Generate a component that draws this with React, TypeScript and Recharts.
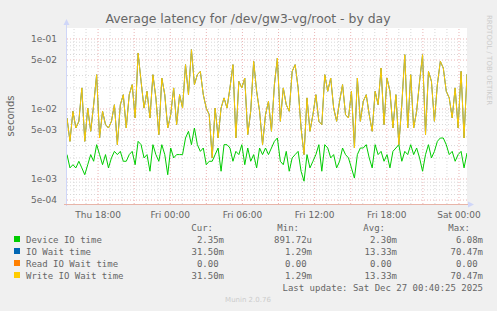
import React from "react";
import { LineChart, Line, XAxis, YAxis, ReferenceLine } from "recharts";

// Device IO time (seconds), ~15-minute samples, Thu 15:40 .. Sat 00:40
const deviceIO = [
  0.00223, 0.00144, 0.0016, 0.00144, 0.00179, 0.00144, 0.00115, 0.0016, 0.00223, 0.00179, 0.00309, 0.00223, 0.0016, 0.00223, 0.00144, 0.002, 0.00248,
  0.00223, 0.00248, 0.00179, 0.00179, 0.00223, 0.00248, 0.0016, 0.00345, 0.00309, 0.002, 0.00223, 0.00129, 0.00309, 0.00223, 0.00179, 0.00309, 0.00223,
  0.00115, 0.00277, 0.002, 0.00223, 0.00223, 0.00223, 0.00385, 0.0048, 0.00309, 0.00535, 0.00309, 0.00248, 0.00277, 0.0016, 0.00179, 0.00179, 0.00223,
  0.00277, 0.00129, 0.00309, 0.00309, 0.00277, 0.00179, 0.00248, 0.00223, 0.00309, 0.0016, 0.00277, 0.00179, 0.00223, 0.00144, 0.00277, 0.00223, 0.00277,
  0.00223, 0.00277, 0.00345, 0.00385, 0.00179, 0.0016, 0.00248, 0.00129, 0.002, 0.00223, 0.00248, 0.00129, 0.00093, 0.00223, 0.00144, 0.00179, 0.00223,
  0.00309, 0.00129, 0.00309, 0.00277, 0.002, 0.00223, 0.00144, 0.00179, 0.00277, 0.00223, 0.002, 0.00144, 0.00103, 0.00223, 0.00277, 0.00277, 0.00309,
  0.002, 0.00144, 0.00309, 0.00223, 0.00248, 0.00179, 0.00223, 0.00144, 0.00248, 0.00277, 0.00309, 0.00179, 0.00248, 0.00223, 0.00309, 0.00223, 0.00277,
  0.002, 0.00129, 0.00223, 0.00309, 0.002, 0.00248, 0.00345, 0.00385, 0.00385, 0.00309, 0.00223, 0.00248, 0.00179, 0.00223, 0.00248, 0.00144, 0.00235,
];

// Write IO Wait time (seconds); IO Wait time is identical
const writeWait = [
  0.00744, 0.00345, 0.00927, 0.00535, 0.00667, 0.02, 0.00345, 0.0103, 0.0048, 0.0115, 0.0309, 0.00385, 0.00927, 0.00597, 0.00535, 0.00667, 0.0115,
  0.00309, 0.0115, 0.016, 0.00535, 0.016, 0.0223, 0.00744, 0.0631, 0.0248, 0.0103, 0.0179, 0.00744, 0.0309, 0.0144, 0.0043, 0.0277, 0.016,
  0.00535, 0.0083, 0.02, 0.00597, 0.016, 0.0103, 0.043, 0.016, 0.0704, 0.0223, 0.0309, 0.0345, 0.016, 0.0103, 0.0083, 0.002, 0.0103,
  0.00385, 0.0103, 0.0144, 0.0103, 0.02, 0.043, 0.00385, 0.0248, 0.02, 0.0277, 0.0043, 0.00927, 0.048, 0.0179, 0.00927, 0.00309, 0.0083,
  0.0129, 0.0048, 0.0223, 0.0535, 0.00667, 0.02, 0.0115, 0.00927, 0.0345, 0.043, 0.02, 0.00535, 0.00223, 0.0144, 0.0048, 0.0083, 0.016,
  0.00667, 0.00597, 0.0309, 0.0179, 0.0277, 0.0103, 0.00667, 0.0129, 0.0223, 0.0083, 0.00744, 0.0179, 0.00277, 0.0277, 0.00667, 0.0129, 0.016,
  0.0083, 0.0048, 0.0179, 0.0115, 0.0385, 0.00597, 0.0277, 0.0179, 0.00535, 0.016, 0.00309, 0.0115, 0.0597, 0.00535, 0.0309, 0.00535, 0.00927,
  0.0248, 0.0597, 0.0043, 0.0345, 0.0248, 0.00667, 0.0223, 0.048, 0.0385, 0.0179, 0.0144, 0.00744, 0.02, 0.00535, 0.0345, 0.00385, 0.0315,
];
const ioWait = writeWait;

const START_HOUR = -8.583; // hours relative to Fri 00:00
const END_HOUR = 24.667;
const xTicks = [-6, 0, 6, 12, 18, 24];
const xTickLabels = ["Thu 18:00", "Fri 00:00", "Fri 06:00", "Fri 12:00", "Fri 18:00", "Sat 00:00"];
const yTicks = [5e-4, 1e-3, 5e-3, 1e-2, 5e-2, 1e-1];
const yTickLabels = ["5e-04", "1e-03", "5e-03", "1e-02", "5e-02", "1e-01"];

const legendRows = [
  { name: "Device IO time", color: "#00CC00", cur: "2.35m", min: "891.72u", avg: "2.30m", max: "6.08m" },
  { name: "IO Wait time", color: "#0066B3", cur: "31.50m", min: "1.29m", avg: "13.33m", max: "70.47m" },
  { name: "Read IO Wait time", color: "#FF8000", cur: "0.00 ", min: "0.00 ", avg: "0.00 ", max: "0.00 " },
  { name: "Write IO Wait time", color: "#FFCC00", cur: "31.50m", min: "1.29m", avg: "13.33m", max: "70.47m" },
];

const step = (END_HOUR - START_HOUR) / (deviceIO.length - 1);
const data = deviceIO.map((d, i) => ({
  t: START_HOUR + i * step,
  device: d,
  io: ioWait[i],
  write: writeWait[i],
}));

const minorY: number[] = [];
const majorY: number[] = [];
[-4, -3, -2, -1].forEach((e) => {
  for (let m = 1; m <= 9; m++) {
    const v = m * Math.pow(10, e);
    if (v < 4.4e-4 || v > 0.143) continue;
    if (m === 1 || m === 5) majorY.push(v);
    else minorY.push(v);
  }
});
const hourLines: number[] = [];
for (let h = -8; h <= 24; h++) hourLines.push(h);

const PL = 67, PT = 28, PW = 400, PH = 176;
const XAXIS_H = 30;
const MONO = "'DejaVu Sans Mono', monospace";
const SANS = "'DejaVu Sans', sans-serif";

export default function App() {
  return (
    <div style={{ position: "absolute", left: 0, top: 0, width: 497, height: 311, background: "#F0F0F0", overflow: "hidden" }}>
      <div style={{ position: "absolute", left: PL, top: PT, width: PW, height: PH, background: "#FFFFFF" }} />
      <div style={{ position: "absolute", left: 0, top: 0 }}>
        <LineChart width={497} height={311} data={data} margin={{ top: PT, right: 497 - PL - PW, bottom: 311 - PT - PH - XAXIS_H, left: 0 }}>
          <XAxis
            dataKey="t"
            type="number"
            height={XAXIS_H}
            domain={[START_HOUR, END_HOUR]}
            allowDataOverflow
            ticks={xTicks}
            tickFormatter={(v: number) => xTickLabels[xTicks.indexOf(v)] ?? ""}
            axisLine={false}
            tickLine={false}
            tick={{ fontSize: 9, fill: "#666666", fontFamily: SANS }}
            tickMargin={2}
          />
          <YAxis
            type="number"
            scale="log"
            domain={[4.39e-4, 0.1436]}
            allowDataOverflow
            ticks={yTicks}
            tickFormatter={(v: number) => yTickLabels[yTicks.indexOf(v)] ?? ""}
            axisLine={false}
            tickLine={false}
            width={PL}
            tick={{ fontSize: 9, fill: "#666666", fontFamily: SANS }}
            tickMargin={4}
          />
          {minorY.map((v) => (
            <ReferenceLine key={"my" + v} y={v} stroke="#D8D8D8" strokeDasharray="1 2" />
          ))}
          {hourLines.map((h) => (
            <ReferenceLine key={"vx" + h} x={h} stroke={h % 3 === 0 ? "#EBB4B4" : "#D8D8D8"} strokeDasharray="1 2" />
          ))}
          {majorY.map((v) => (
            <ReferenceLine key={"My" + v} y={v} stroke="#EBB4B4" strokeDasharray="1 2" />
          ))}
          <Line dataKey="device" stroke="#00CC00" strokeWidth={1} dot={false} isAnimationActive={false} />
          <Line dataKey="io" stroke="#0066B3" strokeWidth={1} dot={false} isAnimationActive={false} />
          <Line dataKey="write" stroke="#FFCC00" strokeWidth={1} dot={false} isAnimationActive={false} />
        </LineChart>
      </div>
      <svg width={497} height={311} style={{ position: "absolute", left: 0, top: 0, pointerEvents: "none" }}>
        {/* axes */}
        <line x1={PL - 0.5} y1={PT - 4} x2={PL - 0.5} y2={PT + PH + 2} stroke="#CFD6F8" />
        <path d={`M ${PL - 3.5} ${PT - 3} L ${PL - 0.5} ${PT - 9} L ${PL + 2.5} ${PT - 3} Z`} fill="#CFD6F8" />
        <line x1={PL - 3} y1={PT + PH + 0.5} x2={PL + PW + 2} y2={PT + PH + 0.5} stroke="#E8B4A8" />
        <path d={`M ${PL + PW + 1} ${PT + PH - 2.5} L ${PL + PW + 7} ${PT + PH + 0.5} L ${PL + PW + 1} ${PT + PH + 3.5} Z`} fill="#CFD6F8" />
        {/* title */}
        <text x={248} y={23} textAnchor="middle" fontSize={12.4} fill="#666666" fontFamily={SANS}>
          Average latency for /dev/gw3-vg/root - by day
        </text>
        <text x={14} y={116} textAnchor="middle" fontSize={10} fill="#666666" fontFamily={SANS} transform="rotate(-90 14 116)">
          seconds
        </text>
        <text x={487} y={15} fontSize={7} fill="#CCCCCC" fontFamily={SANS} transform="rotate(90 487 15)">
          RRDTOOL / TOBI OETIKER
        </text>
        {/* legend */}
        <g fontFamily={MONO} fontSize={9} fill="#666666" style={{ whiteSpace: "pre" }}>
          <text x={213} y={231} textAnchor="end">Cur:</text>
          <text x={299} y={231} textAnchor="end">Min:</text>
          <text x={385} y={231} textAnchor="end">Avg:</text>
          <text x={470} y={231} textAnchor="end">Max:</text>
          {legendRows.map((r, i) => {
            const y = 243 + i * 12;
            return (
              <g key={r.name}>
                <rect x={14} y={y - 7} width={6} height={6} fill={r.color} />
                <text x={26} y={y}>{r.name}</text>
                <text x={224} y={y} textAnchor="end" xmlSpace="preserve">{r.cur}</text>
                <text x={312} y={y} textAnchor="end" xmlSpace="preserve">{r.min}</text>
                <text x={397} y={y} textAnchor="end" xmlSpace="preserve">{r.avg}</text>
                <text x={483} y={y} textAnchor="end" xmlSpace="preserve">{r.max}</text>
              </g>
            );
          })}
          <text x={483} y={291} textAnchor="end">Last update: Sat Dec 27 00:40:25 2025</text>
        </g>
        <text x={248} y={302} textAnchor="middle" fontSize={7} fill="#CCCCCC" fontFamily={SANS}>
          Munin 2.0.76
        </text>
      </svg>
    </div>
  );
}
